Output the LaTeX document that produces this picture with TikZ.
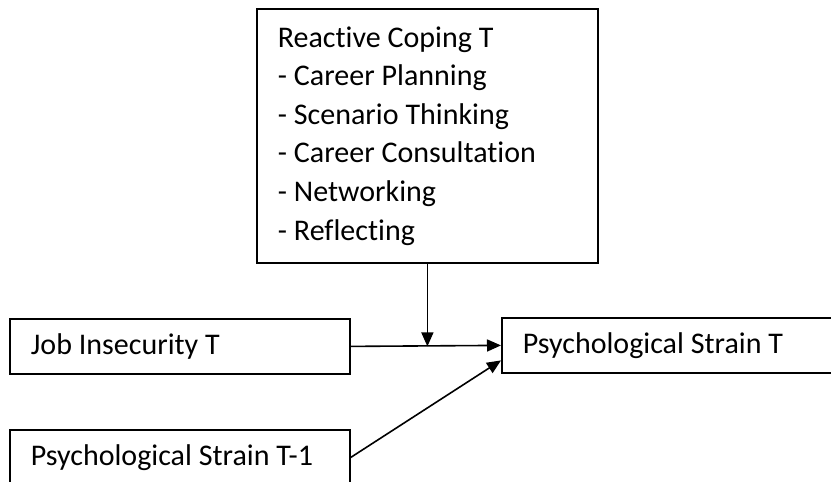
\documentclass[tikz,border=0pt]{standalone}
\usepackage{fontspec}
\setmainfont{Carlito}[Ligatures=NoCommon]
\usetikzlibrary{arrows.meta}
\begin{document}
\begin{tikzpicture}
    [x=1pt, y=1pt,
    box/.style={draw, line width=1.8pt, inner xsep=21pt, inner ysep=0pt, align=left,
      font=\fontsize{30}{38.6}\selectfont, anchor=north west,
      execute at begin node={\spaceskip=0.23em\relax}},
    arr/.style={line width=1.6pt, -{Triangle[length=14pt,width=12pt]}}]
    \clip (0,0) rectangle (831,482);
    % boxes
    \node[box, text width=299pt, minimum height=254pt] (coping) at (256,474)
      {Reactive Coping T\\- Career Planning\\- Scenario Thinking\\- Career Consultation\\- Networking\\- Reflecting};
    \node[box, text width=298pt, minimum height=55pt] (jobins) at (9,164) {Job Insecurity T};
    \node[box, text width=298pt, minimum height=55pt] (strainT) at (501,165) {Psychological Strain T};
    \node[box, text width=298pt, minimum height=55pt] (strainTT) at (9,53) {Psychological Strain T-1};
    % paths
    \coordinate (meet) at (coping.south |- jobins.east);
    \draw[arr] (coping.south) -- (meet);
    \draw[arr] (jobins.east) -- (strainT.west);
    \draw[arr] (strainTT.east) -- ([yshift=-15pt]strainT.west);
\end{tikzpicture}
\end{document}
